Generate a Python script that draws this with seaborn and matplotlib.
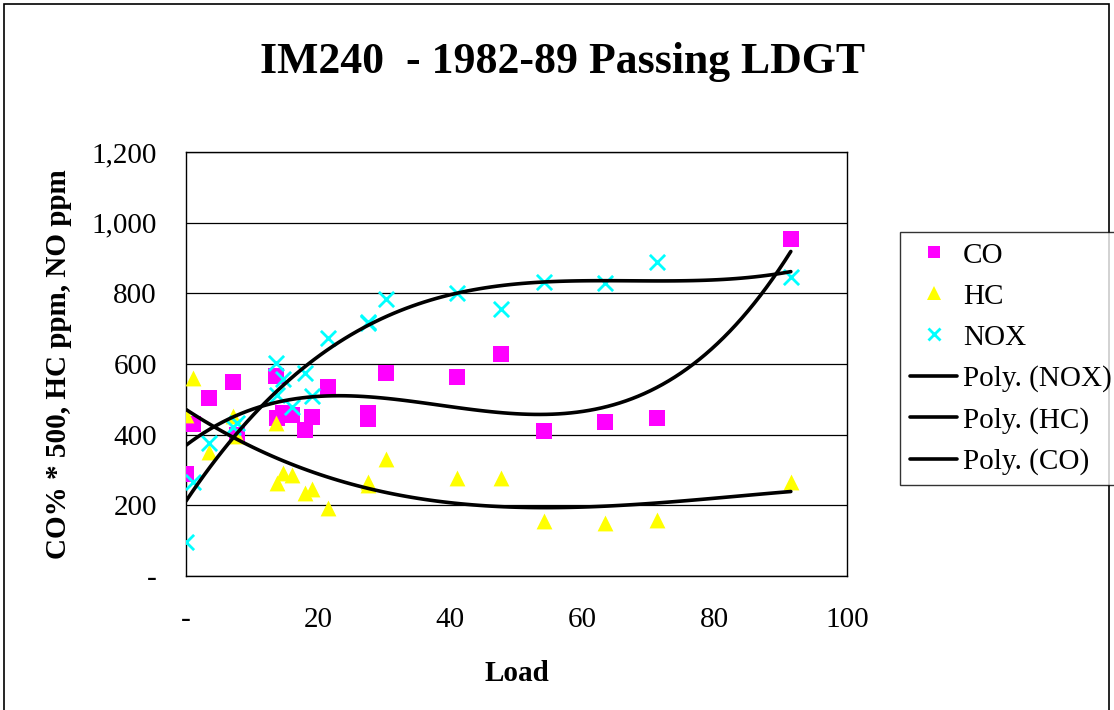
import numpy as np
import pandas as pd
import matplotlib
matplotlib.use('Agg')
import matplotlib.pyplot as plt
import seaborn as sns
from matplotlib.lines import Line2D

# data (load vs concentration)
load = [0, 1, 3.5, 7.1, 7.7, 13.6, 13.7, 14.7, 16, 18, 19, 21.5, 27.5, 27.6,
        30.3, 41, 47.7, 54.2, 63.4, 71.3, 91.5]
co = [290, 430, 505, 548, 400, 565, 447, 461, 456, 413, 450, 535, 461, 444,
      574, 563, 628, 410, 436, 447, 954]
hc = [456, 560, 351, 453, 395, 433, 263, 291, 286, 235, 246, 192, 265, 258,
      331, 277, 277, 156, 150, 158, 266]
nox = [97, 265, 377, 422, 433, 603, 512, 558, 478, 575, 509, 674, 716, 720,
       784, 801, 756, 832, 829, 889, 846]

series = ['CO', 'HC', 'NOX']
colors = {'CO': '#FF00FF', 'HC': '#FFFF00', 'NOX': '#00FFFF'}
markers = {'CO': 's', 'HC': '^', 'NOX': 'x'}

df = pd.DataFrame({
    'Load': load * 3,
    'value': co + hc + nox,
    'series': ['CO'] * len(load) + ['HC'] * len(load) + ['NOX'] * len(load),
})

sns.set_style('white')
plt.rcParams['font.family'] = ['Liberation Serif', 'DejaVu Serif']
plt.rcParams['text.color'] = 'black'
plt.rcParams['axes.labelcolor'] = 'black'

fig = plt.figure(figsize=(11.14, 7.10), dpi=100)
ax = fig.add_axes([186 / 1114, 134 / 710, 661 / 1114, 424 / 710])

# scatter points
for s in series:
    d = df[df['series'] == s]
    kw = dict(s=130, linewidth=0) if s != 'NOX' else dict(s=120, linewidth=2)
    sns.scatterplot(data=d, x='Load', y='value', ax=ax, marker=markers[s],
                    color=colors[s], zorder=3, legend=False, **kw)

# third order polynomial trend lines
for s in ['NOX', 'HC', 'CO']:
    d = df[df['series'] == s]
    sns.regplot(data=d, x='Load', y='value', ax=ax, order=3, ci=None,
                scatter=False, truncate=True,
                line_kws=dict(color='black', lw=2.6, zorder=4))

fs = 21
ax.set_xlim(0, 100)
ax.set_ylim(0, 1200)
ax.set_xticks(range(0, 101, 20))
ax.set_xticklabels(['-', '20', '40', '60', '80', '100'])
ax.set_yticks(range(0, 1201, 200))
ax.set_yticklabels(['-', '200', '400', '600', '800', '1,000', '1,200'])
ax.grid(axis='y', color='black', lw=0.9)
ax.grid(axis='x', visible=False)
for sp in ax.spines.values():
    sp.set_color('black')
    sp.set_linewidth(1.0)
ax.tick_params(axis='both', direction='out', length=7, width=1, colors='black',
               labelsize=fs, pad=14)
ax.tick_params(axis='x', pad=15)
ax.set_xlabel('Load', fontsize=fs, fontweight='bold', labelpad=20)
ax.set_ylabel('CO% * 500, HC ppm, NO ppm', fontsize=fs, fontweight='bold',
              labelpad=14)

fig.text(0.505, 0.913, 'IM240  - 1982-89 Passing LDGT', ha='center', va='center',
         fontsize=31.5, fontweight='bold', color='black')

handles = [
    Line2D([], [], ls='none', marker='s', color=colors['CO'], markersize=9, mew=0),
    Line2D([], [], ls='none', marker='^', color=colors['HC'], markersize=10, mew=0),
    Line2D([], [], ls='none', marker='x', color=colors['NOX'], markersize=9, mew=2),
    Line2D([], [], color='black', lw=2.6),
    Line2D([], [], color='black', lw=2.6),
    Line2D([], [], color='black', lw=2.6),
]
labels = ['CO', 'HC', 'NOX', 'Poly. (NOX)', 'Poly. (HC)', 'Poly. (CO)']
leg = fig.legend(handles, labels, loc='upper left',
                 bbox_to_anchor=(900 / 1114, 1 - 232 / 710), fontsize=fs,
                 frameon=True, fancybox=False, edgecolor='black',
                 handlelength=1.6, handletextpad=0.2, labelspacing=0.5,
                 borderpad=0.35, borderaxespad=0)
leg.get_frame().set_linewidth(1.0)

# outer chart border (bottom edge falls outside the image)
fig.patches.append(plt.Rectangle((4 / 1114, -0.05), 1105 / 1114, 1.05 - 4 / 710,
                                 transform=fig.transFigure, fill=False,
                                 edgecolor='black', lw=1.2))

fig.savefig('out.png', dpi=100)
